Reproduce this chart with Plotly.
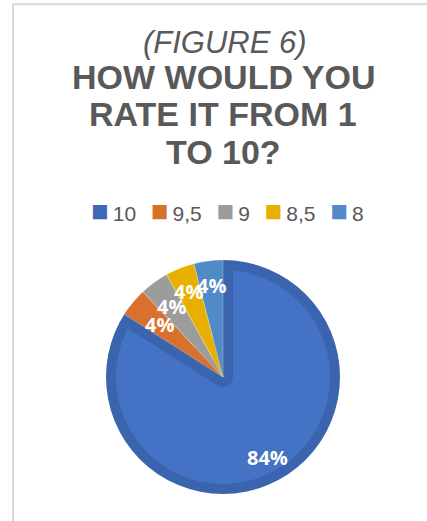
import math
import plotly.graph_objects as go

# ---- data ----
labels = ["10", "9,5", "9", "8,5", "8"]
values = [84, 4, 4, 4, 4]
pct_text = ["84%", "4%", "4%", "4%", "4%"]
title_lines = ["(FIGURE 6)", "HOW WOULD YOU", "RATE IT FROM 1", "TO 10?"]

# ---- styles ----
colors = ["#4472C4", "#D8712D", "#9C9C9C", "#E8AE00", "#508AC7"]
border_dark = "#3A64AE"
legend_colors = ["#3D68B6", "#D8712D", "#9C9C9C", "#E8AE00", "#508AC7"]
text_gray = "#595959"

W, H = 427, 521
CX, CY = 223, 377          # pie center (px)
R = 117                     # pie radius (px)
BAND = 10                   # inner dark band of the big slice (px)
LABEL_R = [0.79, 0.70, 0.75, 0.79, 0.79]


def dom(r):
    return dict(x=[(CX - r) / W, (CX + r) / W],
                y=[1 - (CY + r) / H, 1 - (CY - r) / H])


clear = "rgba(0,0,0,0)"
n = len(values)
common = dict(labels=labels, values=values, sort=False, direction="clockwise",
              rotation=0, textinfo="none")

fig = go.Figure()
# big slice with its thick inner border
fig.add_trace(go.Pie(**common, domain=dom(R),
                     marker=dict(colors=[colors[0]] + [clear] * (n - 1),
                                 line=dict(color=[border_dark] + [clear] * (n - 1),
                                           width=[2 * BAND] + [0] * (n - 1))),
                     hoverinfo="label+percent", showlegend=False))
# white ring hiding the outer half of that border
fig.add_trace(go.Pie(labels=["ring"], values=[1], sort=False, textinfo="none",
                     domain=dom(R + 14), hole=R / (R + 14),
                     marker=dict(colors=["white"], line=dict(width=0)),
                     hoverinfo="skip", showlegend=False))
# small slices on top
fig.add_trace(go.Pie(**common, domain=dom(R),
                     marker=dict(colors=[clear] + colors[1:],
                                 line=dict(color="rgba(255,255,255,0.45)",
                                           width=[0] + [0.6] * (n - 1))),
                     hoverinfo="label+percent", showlegend=False))

annotations = []
# slice labels along each slice's bisector
total = sum(values)
cum = 0
for v, t, rr in zip(values, pct_text, LABEL_R):
    mid = (cum + v / 2) / total * 2 * math.pi
    cum += v
    px = CX + rr * R * math.sin(mid)
    py = CY - rr * R * math.cos(mid)
    annotations.append(dict(x=px / W, y=1 - py / H, xref="paper", yref="paper",
                            xanchor="center", yanchor="middle",
                            text=t, showarrow=False,
                            font=dict(family="Open Sans", size=20, color="white",
                                      weight="bold")))

# title lines
title_y = [42, 77, 114, 152]
title_x = [225, 223, 223, 223]
for i, (t, x, y) in enumerate(zip(title_lines, title_x, title_y)):
    f = dict(family="Liberation Sans", color=text_gray)
    if i == 0:
        f.update(size=31, style="italic")
    else:
        f.update(size=34, weight="bold")
    annotations.append(dict(x=x / W, y=1 - y / H, xref="paper", yref="paper",
                            xanchor="center", yanchor="middle", text=t,
                            showarrow=False, font=f))

# legend row (colored squares + labels)
legend_text = "\u2002\u2009".join(
    f"<span style='color:{c};font-size:29px'>\u25A0</span>\u2009{lab}"
    for c, lab in zip(legend_colors, labels))
annotations.append(dict(x=227 / W, y=1 - 211 / H, xref="paper", yref="paper",
                        xanchor="center", yanchor="middle", text=legend_text,
                        showarrow=False,
                        font=dict(family="Liberation Sans", size=21, color=text_gray)))

fig.update_layout(
    width=W, height=H,
    margin=dict(l=0, r=0, t=0, b=0),
    paper_bgcolor="white", plot_bgcolor="white",
    annotations=annotations,
    showlegend=False,
    shapes=[dict(type="rect", xref="paper", yref="paper",
                 x0=13 / W, x1=1.3, y0=-0.3, y1=1 - 4.3 / H,
                 line=dict(color="#D9D9D9", width=2), fillcolor="rgba(0,0,0,0)",
                 layer="below")],
)

fig.write_html("out.html",
               config={"displayModeBar": False},
               post_script="document.body.style.margin='0px';"
                           "document.body.style.overflow='hidden';")
